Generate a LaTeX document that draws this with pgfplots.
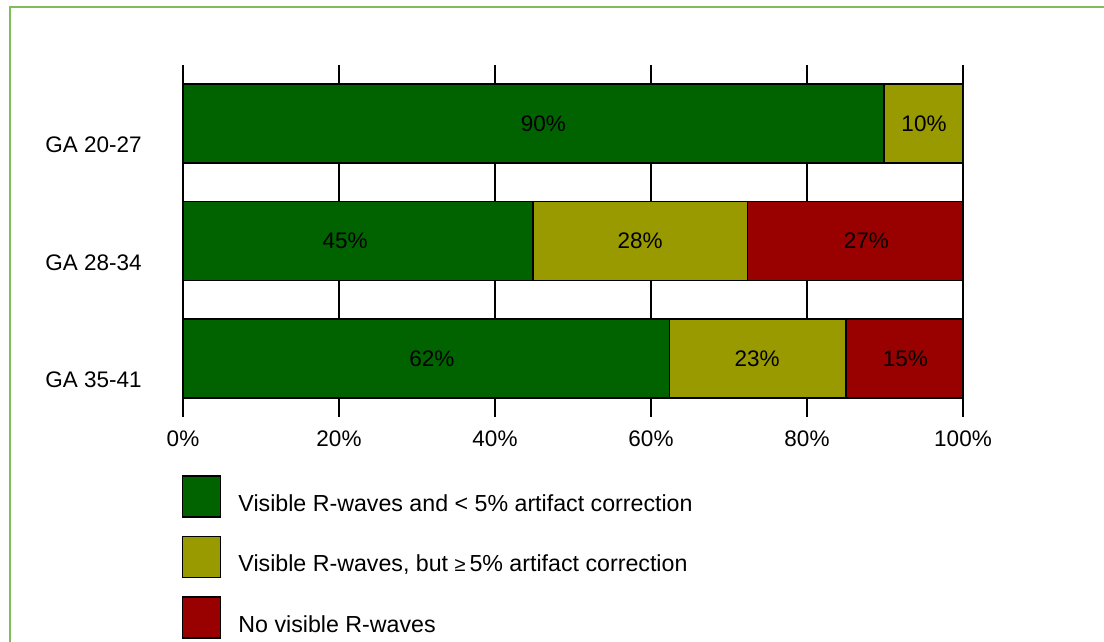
\documentclass[border=0pt]{standalone}
\usepackage{pgfplots}
\pgfplotsset{compat=1.18}
\usepackage{pgfplotstable}
\usepackage{fontspec}
\setmainfont{Liberation Sans}
\definecolor{cgreen}{RGB}{0,99,0}
\definecolor{colive}{RGB}{153,153,0}
\definecolor{cred}{RGB}{153,0,0}
\definecolor{cframe}{RGB}{125,190,90}

\pgfplotstableread{
y green olive red
0 89.9 10.1 0
1 44.9 27.5 27.6
2 62.4 22.6 15.0
}\datatable

\pgfplotstableread{
x y label
46.2 0 90
95.0 0 10
20.8 1 45
58.6 1 28
87.6 1 27
31.9 2 62
73.6 2 23
92.6 2 15
}\labeltable

\pgfplotsset{
  boxlegend/.style={legend image code/.code={%
     \draw[##1, draw=black, line width=0.75pt] (0pt,-6.1pt) rectangle (19pt,14.4pt);
     \path (27.5pt,0pt);}}
}

\begin{document}
\begin{tikzpicture}
\useasboundingbox (0,0) rectangle (552pt,321pt);
\draw[cframe, line width=0.8pt] (5pt,-2pt) -- (5pt,317.4pt) -- (560pt,317.4pt);
\begin{axis}[
  at={(91.5pt,112.5pt)}, anchor=south west,
  scale only axis, width=390pt, height=176pt,
  xbar stacked, bar width=39.5pt,
  xmin=0, xmax=100, ymin=-0.5, ymax=2.5, y dir=reverse,
  axis line style={draw=none},
  major tick length=0pt,
  xtick={0,20,40,60,80,100},
  xticklabels={0\%,20\%,40\%,60\%,80\%,100\%},
  ytick={0,1,2},
  yticklabels={GA 20-27,GA 28-34,GA 35-41},
  xmajorgrids,
  major grid style={black, line width=1pt},
  every tick label/.append style={font=\fontsize{11.25}{13}\selectfont},
  xticklabel style={anchor=base, inner sep=0pt, yshift=-14.5pt},
  yticklabel style={anchor=base east, inner sep=0pt, xshift=-20.5pt, yshift=-14.5pt},
  every axis plot post/.append style={boxlegend},
  legend style={at={(axis description cs:-0.0013,-0.1648)}, anchor=north west,
    draw=none, fill=none, inner sep=0pt, outer sep=0pt, row sep=9pt, column sep=0pt,
    font=\fontsize{11.6}{13}\selectfont, nodes={inner sep=0pt}},
  legend cell align=left,
]
\addplot[fill=cgreen, draw=black, line width=0.75pt] table[x=green, y=y] \datatable;
\addlegendentry{Visible R-waves and < 5\% artifact correction}
\addplot[fill=colive, draw=black, line width=0.75pt] table[x=olive, y=y] \datatable;
\addlegendentry{Visible R-waves, but {\fontsize{10}{10}\selectfont ≥}\,5\% artifact correction}
\addplot[fill=cred, draw=black, line width=0.75pt] table[x=red, y=y] \datatable;
\addlegendentry{No visible R-waves}
\end{axis}
\begin{axis}[
  at={(91.5pt,112.5pt)}, anchor=south west,
  scale only axis, width=390pt, height=176pt,
  xmin=0, xmax=100, ymin=-0.5, ymax=2.5, y dir=reverse,
  hide axis,
]
\addplot[draw=none, mark=none, nodes near coords={\pgfplotspointmeta\%}, point meta=explicit symbolic,
  every node near coord/.style={anchor=center, inner sep=0pt, font=\fontsize{11.25}{13}\selectfont, text=black}]
  table[x=x, y=y, meta=label] \labeltable;
\end{axis}
\end{tikzpicture}
\end{document}
